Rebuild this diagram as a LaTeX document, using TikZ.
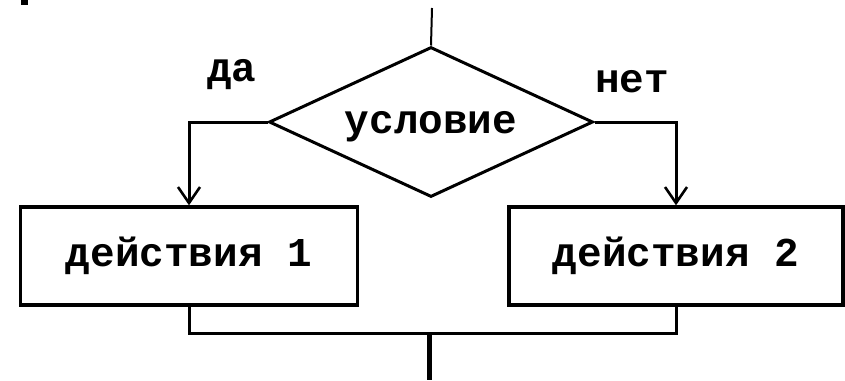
\documentclass[tikz,border=0pt]{standalone}
\usepackage{fontspec}
\setmonofont{Liberation Mono}
\usetikzlibrary{shapes.geometric,arrows.meta}
\begin{document}
\begin{tikzpicture}[x=1pt,y=-1pt,
  txt/.style={font=\ttfamily\bfseries\fontsize{41}{43}\selectfont},
  decision/.style={diamond,draw,line width=3pt,shape aspect=2.16,minimum width=324pt,minimum height=150pt,inner sep=0pt,text depth=0pt,txt},
  actbox/.style={rectangle,draw,line width=3.4pt,minimum height=98pt,inner sep=0pt,txt},
  conn/.style={line width=3pt},
  arr/.style={conn,-{Straight Barb[length=16pt,width=22pt,line width=2.6pt]}},
  lbl/.style={txt,inner sep=0pt}]
\useasboundingbox (0,0) rectangle (845,380);
\fill[black] (21,0) rectangle (28,5);
\node[decision] (cond) at (431,122) {условие};
\node[actbox,minimum width=337pt] (b1) at (189,256) {действия 1};
\node[actbox,minimum width=334pt] (b2) at (676,256) {действия 2};
\coordinate (top) at (432,8);
\coordinate (j) at (429,333);
\coordinate (out) at (429,380);
\node[lbl] (yes) at (232,75) {да};
\node[lbl] (no) at (632,82) {нет};
\draw[conn,line width=2pt] (top) -- (cond.north);
\draw[arr] (cond.west) -| (b1.north);
\draw[arr] (cond.east) -| (b2.north);
\draw[conn,line join=miter] (b1.south) |- (j) -| (b2.south);
\draw[line width=5pt] (j) -- (out);
\end{tikzpicture}
\end{document}
